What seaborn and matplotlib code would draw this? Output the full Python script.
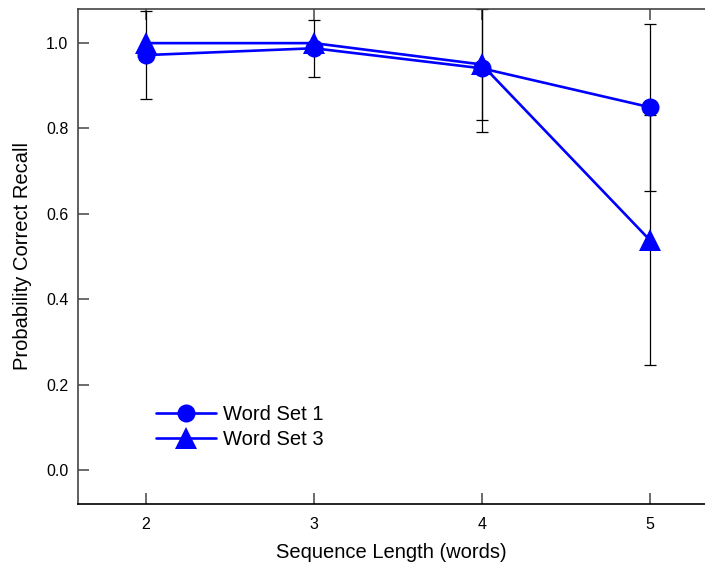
import matplotlib
matplotlib.use("Agg")
import matplotlib.pyplot as plt
import seaborn as sns
import pandas as pd

seq_len = [2, 3, 4, 5]
ws1_mean = [0.972, 0.988, 0.941, 0.850]
ws1_err = [0.103, 0.067, 0.150, 0.196]
ws3_mean = [1.000, 1.000, 0.950, 0.539]
ws3_err = [0.0, 0.0, 0.130, 0.293]
series_names = ["Word Set 1", "Word Set 3"]
x_ticks = [2, 3, 4, 5]
y_ticks = [0.0, 0.2, 0.4, 0.6, 0.8, 1.0]

sns.set_theme(style="white")
plt.rcParams['font.family'] = ['Liberation Sans', 'DejaVu Sans']

df = pd.DataFrame({
    "x": seq_len * 2,
    "y": ws1_mean + ws3_mean,
    "set": [series_names[0]] * 4 + [series_names[1]] * 4,
})

fig = plt.figure(figsize=(7.05, 5.62), dpi=100)
ax = fig.add_axes([0.1106, 0.1032, 0.8894, 0.8808])

# error bars
for m, e in [(ws1_mean, ws1_err), (ws3_mean, ws3_err)]:
    xs = [x for x, ee in zip(seq_len, e) if ee > 0]
    ys = [y for y, ee in zip(m, e) if ee > 0]
    es = [ee for ee in e if ee > 0]
    ax.errorbar(xs, ys, yerr=es, fmt="none", ecolor="black", elinewidth=0.9,
                capsize=4, capthick=0.9, zorder=1)

sns.lineplot(data=df, x="x", y="y", hue="set", style="set",
             palette={series_names[0]: "#0000ff", series_names[1]: "#0000ff"},
             markers={series_names[0]: "o", series_names[1]: "^"},
             dashes=False, linewidth=1.9, markersize=13, markeredgewidth=0,
             ax=ax, zorder=2)

for ln in ax.get_lines():
    if ln.get_marker() == "^":
        ln.set_markersize(16)

ax.set_xlim(1.595, 5.33)
ax.set_ylim(-0.08, 1.08)
ax.set_xticks(x_ticks)
ax.set_yticks(y_ticks)
ax.set_xticklabels([str(v) for v in x_ticks])
ax.set_yticklabels([f"{v:.1f}" for v in y_ticks])
ax.tick_params(axis="both", direction="in", length=8, width=1.1, color="#444444",
               labelsize=11.5, labelcolor="black")
ax.tick_params(axis="x", top=True, bottom=True, pad=9)
ax.tick_params(axis="y", left=True, right=False, pad=7)

for s in ["left", "bottom", "top"]:
    ax.spines[s].set_visible(True)
    ax.spines[s].set_color("#444444")
    ax.spines[s].set_linewidth(1.2)
ax.spines["bottom"].set_color("black")
ax.spines["right"].set_visible(False)

ax.set_xlabel("Sequence Length (words)", fontsize=14.5, labelpad=8, color="black")
ax.set_ylabel("Probability Correct Recall", fontsize=14.5, labelpad=10, color="black")

leg = ax.legend(loc="lower left", bbox_to_anchor=(0.095, 0.075), frameon=False,
                fontsize=14.5, handlelength=3, handletextpad=0.35,
                labelspacing=0.28)
for t in leg.get_texts():
    t.set_color("black")

fig.savefig("out.png", dpi=100)
